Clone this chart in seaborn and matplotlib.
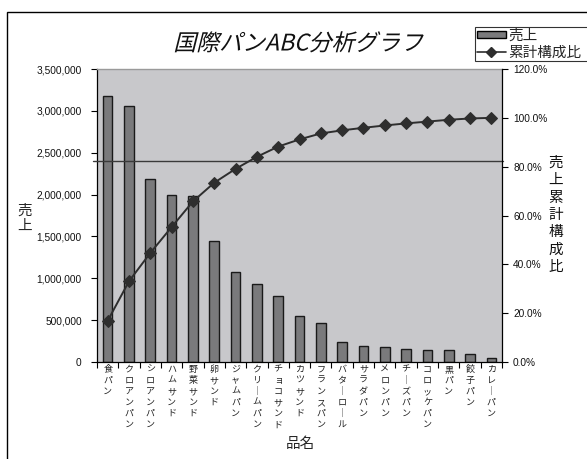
import numpy as np
import pandas as pd
import matplotlib
matplotlib.use("Agg")
import matplotlib.pyplot as plt
import seaborn as sns
from matplotlib.patches import Patch, Rectangle
from matplotlib.lines import Line2D
from matplotlib.transforms import Affine2D
from matplotlib import patheffects

# ---- data ----
categories = ['食パン', 'クロアンパン', 'シロアンパン', 'ハムサンド', '野菜サンド',
              '卵サンド', 'ジャムパン', 'クリームパン', 'チョコサンド', 'カツサンド',
              'フランスパン', 'バターロール', 'サラダパン', 'メロンパン', 'チーズパン',
              'コロッケパン', '黒パン', '餃子パン', 'カレーパン']
sales = [3175000, 3055000, 2190000, 1995000, 1980000,
         1445000, 1070000, 930000, 790000, 555000,
         460000, 240000, 195000, 180000, 160000,
         140000, 140000, 100000, 50000]
left_ticks = [0, 500000, 1000000, 1500000, 2000000, 2500000, 3000000, 3500000]
right_ticks = [0, 20, 40, 60, 80, 100, 120]
threshold_pct = 82.3

df = pd.DataFrame({'品名': categories, '売上': sales})
df['累計構成比'] = df['売上'].cumsum() / df['売上'].sum() * 100
df['pos'] = np.arange(len(df))

sns.set_theme(style="white")
plt.rcParams['font.family'] = ['Noto Sans CJK JP', 'DejaVu Sans']
num_font = 'Liberation Sans'

W, H = 587, 459
fig = plt.figure(figsize=(W / 100, H / 100), dpi=100)
fig.patch.set_facecolor('white')

def fx(px):
    return px / W

def fy(py):
    return 1 - py / H

# outer chart frame
fig.add_artist(Rectangle((fx(7), fy(700)), fx(700), fy(12) - fy(700),
                         transform=fig.transFigure, fill=False,
                         edgecolor='black', linewidth=1.0))

L, R, T, B = 97, 502, 69, 362
ax = fig.add_axes([fx(L), fy(B), fx(R) - fx(L), fy(T) - fy(B)])
ax.set_facecolor('#c8c8cb')

def ax_x(px):
    return (fx(px) - fx(L)) / (fx(R) - fx(L))

def ax_y(py):
    return (fy(py) - fy(B)) / (fy(T) - fy(B))

bar_color = '#7a7a7c'
sns.barplot(data=df, x='pos', y='売上', color=bar_color, saturation=1,
            width=0.45, edgecolor='#1a1a1a', linewidth=1.0, ax=ax,
            native_scale=True)

ax.set_xlim(-0.5, len(df) - 0.5)
ax.set_ylim(0, 3500000)
ax.set_yticks(left_ticks)
ax.set_yticklabels([f'{v:,}' for v in left_ticks], fontfamily=num_font, fontsize=7.3)
ax.tick_params(axis='y', direction='out', length=4, width=0.8, color='black',
               pad=7, left=True, labelcolor='#111111')

# category boundaries carry the tick marks, centers carry the names
ax.set_xticks(np.arange(-0.5, len(df), 1.0))
ax.set_xticklabels([])
ax.tick_params(axis='x', which='major', direction='out', length=4, width=0.8,
               color='black', bottom=True)

def vertical(s):
    return '\n'.join('｜' if c == 'ー' else c for c in s)

ax.set_xticks(df['pos'], minor=True)
ax.set_xticklabels([vertical(c) for c in categories], minor=True,
                   fontsize=6.5, linespacing=1.3, color='#222222')
ax.tick_params(axis='x', which='minor', length=0, pad=2)

ax.set_xlabel('品名', fontsize=10.5)
ax.xaxis.set_label_coords(ax_x(300), ax_y(444))
ax.xaxis.label.set_va('center')
ax.set_ylabel('売\n上', fontsize=10.5, rotation=0, linespacing=1.1)
ax.yaxis.set_label_coords(ax_x(25), ax_y(218))
ax.yaxis.label.set_va('center')
ax.yaxis.label.set_ha('center')

for side in ['left', 'bottom']:
    ax.spines[side].set_color('black')
    ax.spines[side].set_linewidth(0.9)
ax.spines['top'].set_color('#9a9a9a')
ax.spines['top'].set_linewidth(1.0)
ax.spines['right'].set_visible(False)

# cumulative share on the secondary axis
ax2 = ax.twinx()
line_color = '#2e2e2e'
sns.lineplot(data=df, x='pos', y='累計構成比', color=line_color, marker='D',
             markersize=6, markeredgecolor=line_color, linewidth=1.4, ax=ax2,
             legend=False)
ax2.set_xlim(-0.5, len(df) - 0.5)
ax2.set_ylim(0, 120)
ax2.set_yticks(right_ticks)
ax2.set_yticklabels([f'{v:.1f}%' for v in right_ticks], fontfamily=num_font, fontsize=7.3)
ax2.tick_params(axis='y', direction='out', length=4, width=0.8, color='black',
                pad=4, right=True, labelcolor='#111111')
ax2.set_ylabel('')
ax2.set_xlabel('')
for side in ['left', 'bottom', 'top']:
    ax2.spines[side].set_visible(False)
ax2.spines['right'].set_color('black')
ax2.spines['right'].set_linewidth(0.9)

# 80% guide line across the plot
ax2.plot([-0.5 - 0.2, len(df) - 0.5 + 0.05], [threshold_pct, threshold_pct],
         color='#3a3a3a', linewidth=1.0, clip_on=False, zorder=1)

fig.text(fx(556), fy(215), '\n'.join('売上累計構成比'), fontsize=10.5,
         ha='center', va='center', linespacing=1.3, color='#111111')


class Slant(patheffects.AbstractPathEffect):
    """Shear glyph outlines to give an oblique face."""

    def __init__(self, deg=14):
        super().__init__()
        self.deg = deg

    def draw_path(self, renderer, gc, tpath, affine, rgbFace=None):
        renderer.draw_path(gc, tpath, Affine2D().skew_deg(self.deg, 0) + affine, rgbFace)


fig.text(fx(298), fy(44), '国際パンABC分析グラフ', fontsize=16.5, ha='center',
         va='center', color='#111111', path_effects=[Slant(14)])

handles = [Patch(facecolor=bar_color, edgecolor='black', linewidth=1.0),
           Line2D([], [], color=line_color, marker='D', markersize=5, linewidth=1.2)]
# legend box runs off the right edge of the chart area
leg = fig.legend(handles, ['売上', '累計構成比'], loc='upper left',
                 bbox_to_anchor=(fx(475), fy(27), fx(140), 0.0), mode='expand',
                 frameon=True, fancybox=False,
                 edgecolor='black', fontsize=10.5, borderpad=0.12, labelspacing=0.2,
                 handlelength=2.0, handleheight=0.45, handletextpad=0.15,
                 borderaxespad=0)
leg.get_frame().set_linewidth(0.8)

fig.savefig('out.png', dpi=100, facecolor='white')
